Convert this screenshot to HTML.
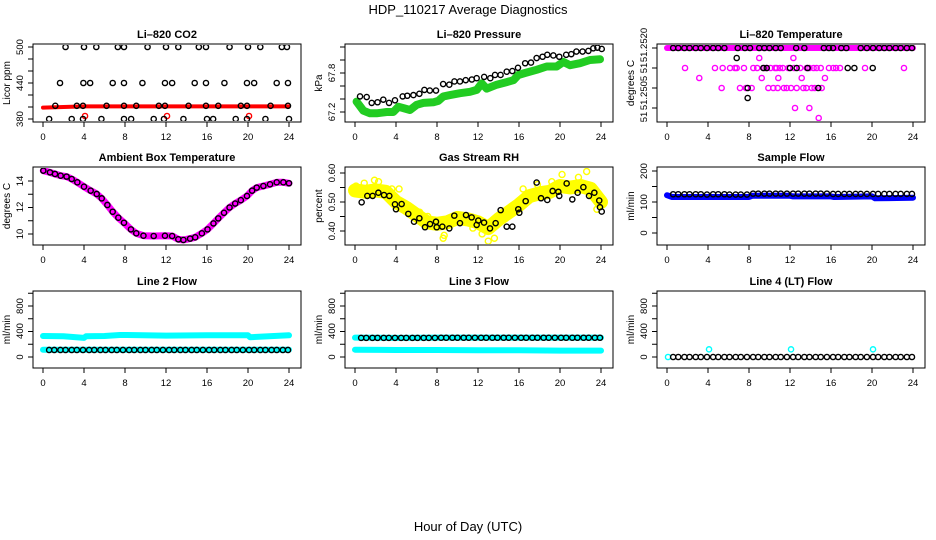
<!DOCTYPE html>
<html><head><meta charset="utf-8"><style>
html,body{margin:0;padding:0;background:#fff}
svg{display:block;font-family:"Liberation Sans",sans-serif}
</style></head><body>
<svg id="chart" width="936" height="540" viewBox="0 0 936 540">
<rect width="936" height="540" fill="#fff"/>
<text x="468" y="14" text-anchor="middle" font-size="13">HDP_110217  Average Diagnostics</text>
<text x="468" y="531" text-anchor="middle" font-size="13">Hour of Day (UTC)</text>
</svg>
<script>
// ---- data ----
const xTicks=[0,4,8,12,16,20,24];
const hrs=[0.6,1.1,1.7,2.2,2.8,3.3,3.9,4.5,5.0,5.6,6.1,6.7,7.2,7.8,8.4,8.9,9.5,10.0,10.6,11.1,11.7,12.3,12.8,13.4,13.9,14.5,15.0,15.6,16.2,16.7,17.3,17.8,18.4,18.9,19.5,20.1,20.6,21.2,21.7,22.3,22.8,23.4,23.9];
// CO2
const co2Hi=[2.2,4,5.2,7.3,7.9,10.2,12,13.2,15.2,15.9,18.2,20,21.2,23.3,23.8];
const co2Mid=[1.66,3.94,4.6,6.8,7.9,9.7,11.9,12.6,14.8,15.9,17.7,19.9,20.6,22.8,23.9];
const co2Band=[1.2,3.3,3.9,6.2,7.9,9.1,11.3,11.9,14.2,15.9,17.1,19.3,19.9,22.2,23.9];
const co2Lo=[0.6,2.8,3.9,5.7,7.9,8.6,10.8,11.8,13.7,16,16.6,18.8,19.9,21.7,24];
const co2RedHours=[0,2,4,6,8,10,12,14,16,18,20,22,24];
const co2RedVals=[399,400,401,401,401,401,401,401,401,401,401,401,401];
const co2RedPtHours=[4.1,12.1,20.1];
const co2RedPtVals=[385,385,385];
// Pressure
const presBlkHours=[0.49,1.14,1.63,2.2,2.76,3.32,3.9,4.65,5.1,5.7,6.28,6.77,7.3,7.9,8.6,9.2,9.7,10.24,10.8,11.4,11.87,12.6,13.2,13.66,14.2,14.8,15.35,15.9,16.6,17.17,17.72,18.3,18.76,19.35,19.93,20.6,21.1,21.6,22.2,22.77,23.25,23.65,24.07];
const presBlkVals=[67.44,67.43,67.34,67.35,67.39,67.34,67.38,67.44,67.45,67.46,67.48,67.54,67.53,67.53,67.63,67.62,67.67,67.67,67.69,67.7,67.72,67.74,67.72,67.77,67.77,67.82,67.83,67.88,67.95,67.96,68.03,68.05,68.08,68.07,68.05,68.08,68.09,68.13,68.13,68.14,68.18,68.19,68.17];
const presGrnHours=[0.16,0.82,1.46,2.11,3.09,3.74,4.23,4.72,5.37,6.02,6.67,7.64,8.13,8.62,9.27,10.24,11.22,11.87,12.36,12.85,13.82,14.8,15.45,15.93,16.59,17.72,18.7,19.67,20.33,20.98,21.95,22.93,23.9];
const presGrnVals=[67.36,67.22,67.18,67.18,67.2,67.2,67.28,67.26,67.23,67.31,67.34,67.35,67.37,67.44,67.46,67.49,67.51,67.54,67.64,67.56,67.62,67.66,67.69,67.77,67.8,67.85,67.9,67.9,67.97,67.92,67.95,68.0,68.01];
// Li-820 temperature
const tBandHours=[0,24];
const tBandVals=[51.2520,51.2520];
const tMagHours=[1.76,3.15,4.68,5.33,5.43,6.15,6.63,6.8,7.12,7.51,7.71,8.26,8.42,9.0,9.24,9.73,9.89,10.37,10.54,10.86,11.02,11.68,11.84,12.1,12.33,12.49,12.65,13.14,13.3,13.63,13.89,14.12,14.6,14.8,15.09,15.41,16.22,16.88,19.32,23.12,8.8,9.5,10.1,10.7,11.3,12.4,13.0,13.9,14.3,15.0,15.8,16.5,13.6,14.4,10.8,11.4];
const tMagVals=[51.2515,51.25125,51.2515,51.2510,51.2515,51.2515,51.2515,51.2515,51.2510,51.2515,51.2510,51.2510,51.2515,51.25175,51.25125,51.2515,51.2510,51.2510,51.2515,51.25125,51.2515,51.2510,51.2515,51.2510,51.25175,51.2505,51.2510,51.25125,51.2510,51.2515,51.2505,51.2510,51.2515,51.25025,51.2510,51.25125,51.2515,51.2515,51.2515,51.2515,51.2515,51.2515,51.2515,51.2515,51.2515,51.2515,51.2515,51.2515,51.2515,51.2515,51.2515,51.2515,51.2510,51.2510,51.2510,51.2510];
const tBlkHours=[6.8,7.87,7.87,9.4,9.73,12.0,12.65,13.72,14.76,17.63,18.28,20.07];
const tBlkVals=[51.25175,51.2510,51.25075,51.2515,51.2515,51.2515,51.2515,51.2515,51.2510,51.2515,51.2515,51.2515];
const tTopHours=[0.6,1.1,1.7,2.2,2.8,3.3,3.9,4.5,5.0,5.6,6.9,7.6,8.1,9.0,9.5,10.0,10.6,11.1,12.6,13.4,15.3,15.8,16.2,17.0,17.5,18.9,19.5,20.1,20.7,21.2,21.7,22.3,22.8,23.4,23.9];
const tTopVals=[51.2520,51.2520,51.2520,51.2520,51.2520,51.2520,51.2520,51.2520,51.2520,51.2520,51.2520,51.2520,51.2520,51.2520,51.2520,51.2520,51.2520,51.2520,51.2520,51.2520,51.2520,51.2520,51.2520,51.2520,51.2520,51.2520,51.2520,51.2520,51.2520,51.2520,51.2520,51.2520,51.2520,51.2520,51.2520];
// Ambient
const ambHours=[0.03,0.68,1.17,1.72,2.3,2.8,3.35,4.0,4.65,5.24,5.73,6.28,6.8,7.35,7.9,8.58,9.1,9.8,10.8,11.9,12.6,13.2,13.7,14.35,14.85,15.5,16.05,16.63,17.1,17.66,18.2,18.75,19.3,19.9,20.4,20.85,21.5,22.15,22.8,23.45,24.0];
const ambVals=[14.78,14.65,14.53,14.4,14.33,14.15,13.9,13.57,13.27,13.02,12.69,12.19,11.68,11.23,10.85,10.35,10.05,9.87,9.85,9.87,9.85,9.6,9.55,9.65,9.75,10.05,10.35,10.8,11.18,11.6,12.0,12.3,12.55,12.87,13.27,13.5,13.62,13.75,13.9,13.9,13.83];
// RH
const rhYelHours=[0,1,2,3,4,5,6,7,8,9,10,11,12,13,14,15,16,17,18,19,20,21,22,23,24];
const rhYelVals=[0.54,0.535,0.54,0.535,0.50,0.48,0.455,0.43,0.425,0.43,0.445,0.44,0.43,0.41,0.44,0.465,0.49,0.52,0.53,0.535,0.555,0.55,0.555,0.545,0.50];
const rhYelPtHours=[0.1,0.9,1.9,2.3,3.6,4.3,6.3,7.1,8.6,8.7,11.5,12.4,13.0,13.6,15.7,16.4,17.8,19.2,20.2,21.8,22.6,23.6];
const rhYelPtVals=[0.555,0.565,0.575,0.57,0.545,0.545,0.465,0.45,0.375,0.385,0.41,0.39,0.365,0.375,0.485,0.545,0.56,0.57,0.595,0.585,0.605,0.475];
const rhBlkHours=[0.65,1.2,1.72,2.28,2.83,3.35,3.9,4.0,4.55,5.2,5.76,6.28,6.83,7.32,7.9,7.97,8.52,9.2,9.69,10.24,10.83,11.38,11.87,12.03,12.59,13.17,13.72,14.21,14.8,15.35,15.93,16.03,16.65,17.72,18.15,18.76,19.28,19.84,19.93,20.65,21.2,21.72,22.28,22.83,23.35,23.83,23.9,24.07];
const rhBlkVals=[0.499,0.521,0.521,0.532,0.524,0.521,0.492,0.475,0.493,0.459,0.432,0.444,0.413,0.424,0.432,0.413,0.415,0.409,0.453,0.427,0.455,0.447,0.421,0.436,0.429,0.409,0.427,0.472,0.415,0.415,0.475,0.463,0.503,0.567,0.513,0.507,0.538,0.535,0.521,0.564,0.509,0.532,0.551,0.521,0.532,0.505,0.482,0.467];
// Sample flow
const sfBlueHours=[0,0.5,4,4.3,8,8.3,12,12.3,16,16.3,20,20.3,24];
const sfBlueVals=[122,116,116,116,116,120,120,118,118,116,118,112,114];
const sfBlkVals=[125,125,125,125,125,125,124,125,125,125,124,124,124,124,127,127,127,127,127,127,127,127,127,127,127,127,127,127,126,126,126,126,126,126,126,126,126,126,126,126,126,126,126];
// Line 2
const l2UpHours=[0,2,4,4.2,6,7.5,8,12,16,20,20.2,24];
const l2UpVals=[330,325,300,325,330,345,345,335,340,340,310,340];
const l2LoHours=[0,8,16,24];
const l2LoVals=[115,115,115,115];
const l2BlkVals=[110,110,110,110,110,110,110,110,110,110,110,110,110,110,110,110,110,110,110,110,110,110,110,110,110,110,110,110,110,110,110,110,110,110,110,110,110,110,110,110,110,110,110];
// Line 3
const l3UpHours=[0,4,8,12,16,20,24];
const l3UpVals=[305,300,305,305,305,305,305];
const l3LoHours=[0,4,8,12,16,20,24];
const l3LoVals=[115,110,110,105,105,100,100];
const l3BlkVals=[300,300,300,300,300,300,300,300,300,300,300,300,300,300,302,302,302,302,302,302,302,302,302,302,302,302,302,302,302,302,302,302,302,302,302,302,302,302,302,302,302,302,302];
// Line 4
const l4CyHours=[0.1,4.1,12.1,20.1];
const l4CyVals=[0,120,120,120];
const l4BlkVals=[0,0,0,0,0,0,0,0,0,0,0,0,0,0,0,0,0,0,0,0,0,0,0,0,0,0,0,0,0,0,0,0,0,0,0,0,0,0,0,0,0,0,0];

// ---- drawing ----
const NS="http://www.w3.org/2000/svg";
const svg=document.getElementById('chart');
const colL=[33,345,657],colR=[301,613,925],rowT=[44,167,291],rowB=[122,245,368];
function mk(tag,attrs,parent){const e=document.createElementNS(NS,tag);for(const k in attrs)e.setAttribute(k,attrs[k]);(parent||svg).appendChild(e);return e;}
function panel(c,r,name,title,ytitle,a1,p1,a2,p2,ticks,labels){
  const g=mk('g',{});
  
  
  const L=colL[c],R=colR[c],T=rowT[r],B=rowB[r];
  const sx=h=>L+10+h*10.25;
  const sy=v=>p1+(v-a1)*(p2-p1)/(a2-a1);
  const t=mk('text',{x:(L+R)/2,y:T-6,'text-anchor':'middle','font-size':11,'font-weight':'bold'},g);t.textContent=title;
  
  
  const box=mk('rect',{x:L,y:T,width:R-L,height:B-T,fill:'none',stroke:'#000','stroke-width':1},g);
  
  
  const xa=mk('g',{},g);
  
  
  mk('line',{x1:sx(0),x2:sx(24),y1:B,y2:B,stroke:'#000'},xa);
  xTicks.forEach(h=>{mk('line',{x1:sx(h),x2:sx(h),y1:B,y2:B+5,stroke:'#000'},xa);
    const tx=mk('text',{x:sx(h),y:B+18,'text-anchor':'middle','font-size':9.5},xa);tx.textContent=h;});
  const ya=mk('g',{},g);
  
  
  mk('line',{x1:L,x2:L,y1:sy(ticks[0]),y2:sy(ticks[ticks.length-1]),stroke:'#000'},ya);
  ticks.forEach(v=>mk('line',{x1:L-5,x2:L,y1:sy(v),y2:sy(v),stroke:'#000'},ya));
  labels.forEach(([txt,py])=>{const tt=mk('text',{x:L-10,y:py,'text-anchor':'middle','font-size':9.5,transform:`rotate(-90 ${L-10} ${py})`},ya);tt.textContent=txt;});
  const yt=mk('text',{x:L-23,y:(T+B)/2,'text-anchor':'middle','font-size':10,transform:`rotate(-90 ${L-23} ${(T+B)/2})`},g);yt.textContent=ytitle;
  
  
  const clip='clip'+c+r;
  const cp=mk('clipPath',{id:clip},g);mk('rect',{x:L+1,y:T+1,width:R-L-2,height:B-T-2},cp);
  const data=mk('g',{'clip-path':`url(#${clip})`},g);
  
  
  return {sx,sy,data};
}
function band(p,hs,vs,color,w,name){
  const pts=hs.map((h,i)=>p.sx(h).toFixed(1)+','+p.sy(vs[i]).toFixed(1)).join(' ');
  const pl=mk('polyline',{points:pts,fill:'none',stroke:color,'stroke-width':w,'stroke-linejoin':'round','stroke-linecap':'round'},p.data);
  
  
}
function pts(p,hs,vs,color,name,r){
  hs.forEach((h,i)=>{const ci=mk('circle',{cx:p.sx(h),cy:p.sy(vs[i]),r:r||2.6,fill:'none',stroke:color,'stroke-width':1.4},p.data);
    
    });
}
const fill=(arr,v)=>arr.map(()=>v);
// CO2
let p=panel(0,0,'co2','Li\u2013820 CO2','Licor ppm',380,119,500,47,[380,400,420,440,460,480,500],[['380',119],['440',83],['500',47]]);
band(p,co2RedHours,co2RedVals,'#ff0000',4,'co2-red-band');
pts(p,co2RedPtHours,co2RedPtVals,'#ff0000','co2-red-point');
pts(p,co2Hi,fill(co2Hi,500),'#000','co2-point');
pts(p,co2Mid,fill(co2Mid,440),'#000','co2-point');
pts(p,co2Band,fill(co2Band,402),'#000','co2-point');
pts(p,co2Lo,fill(co2Lo,380),'#000','co2-point');
// Pressure
p=panel(1,0,'pressure','Li\u2013820 Pressure','kPa',67.2,112,67.8,73,[67.2,67.4,67.6,67.8,68.0,68.2],[['67.2',112],['67.8',73]]);
band(p,presGrnHours,presGrnVals,'#22cc22',8,'pressure-green-band');
pts(p,presBlkHours,presBlkVals,'#000','pressure-point');
// Temperature
p=panel(2,0,'li820-temperature','Li\u2013820 Temperature','degrees C',51.2520,48,51.2505,108,[51.2520,51.2515,51.2510,51.2505],[['51.2520',45],['51',68],['51.2505',93],['51',117]]);
band(p,tBandHours,tBandVals,'#ff00ff',6,'temperature-magenta-band');
pts(p,tMagHours,tMagVals,'#ff00ff','temperature-magenta-point');
pts(p,tTopHours,tTopVals,'#000','temperature-point');
pts(p,tBlkHours,tBlkVals,'#000','temperature-point');
// Ambient
p=panel(0,1,'ambient-box-temperature','Ambient Box Temperature','degrees C',10,234,14,181,[10,11,12,13,14],[['10',234],['12',207],['14',181]]);
band(p,ambHours,ambVals,'#ff00ff',7,'ambient-magenta-band');
pts(p,ambHours,ambVals,'#000','ambient-point');
// RH
p=panel(1,1,'gas-stream-rh','Gas Stream RH','percent',0.40,231,0.60,173,[0.40,0.45,0.50,0.55,0.60],[['0.40',231],['0.50',202],['0.60',173]]);
band(p,rhYelHours,rhYelVals,'#ffff00',14,'rh-yellow-band');
pts(p,rhYelPtHours,rhYelPtVals,'#ffff00','rh-yellow-point',3);
pts(p,rhBlkHours,rhBlkVals,'#000','rh-point');
// Sample flow
p=panel(2,1,'sample-flow','Sample Flow','ml/min',0,233,200,171,[0,50,100,150,200],[['0',233],['100',202],['200',171]]);
band(p,sfBlueHours,sfBlueVals,'#0000ff',6,'sample-flow-blue-band');
pts(p,hrs,sfBlkVals,'#000','sample-flow-point');
// Line 2
const rtk=[0,200,400,600,800,1000], rlb=()=>[['0',357],['400',331],['800',306]];
p=panel(0,2,'line2-flow','Line 2 Flow','ml/min',0,357,800,306,rtk,rlb());
band(p,l2UpHours,l2UpVals,'#00ffff',6,'line2-cyan-upper');
band(p,l2LoHours,l2LoVals,'#00ffff',6,'line2-cyan-lower');
pts(p,hrs,l2BlkVals,'#000','line2-point');
// Line 3
p=panel(1,2,'line3-flow','Line 3 Flow','ml/min',0,357,800,306,rtk,rlb());
band(p,l3UpHours,l3UpVals,'#00ffff',6,'line3-cyan-upper');
band(p,l3LoHours,l3LoVals,'#00ffff',6,'line3-cyan-lower');
pts(p,hrs,l3BlkVals,'#000','line3-point');
// Line 4
p=panel(2,2,'line4-flow','Line 4 (LT) Flow','ml/min',0,357,800,306,rtk,rlb());
pts(p,l4CyHours,l4CyVals,'#00ffff','line4-cyan-point');
pts(p,hrs,l4BlkVals,'#000','line4-point');
</script>
</body></html>
